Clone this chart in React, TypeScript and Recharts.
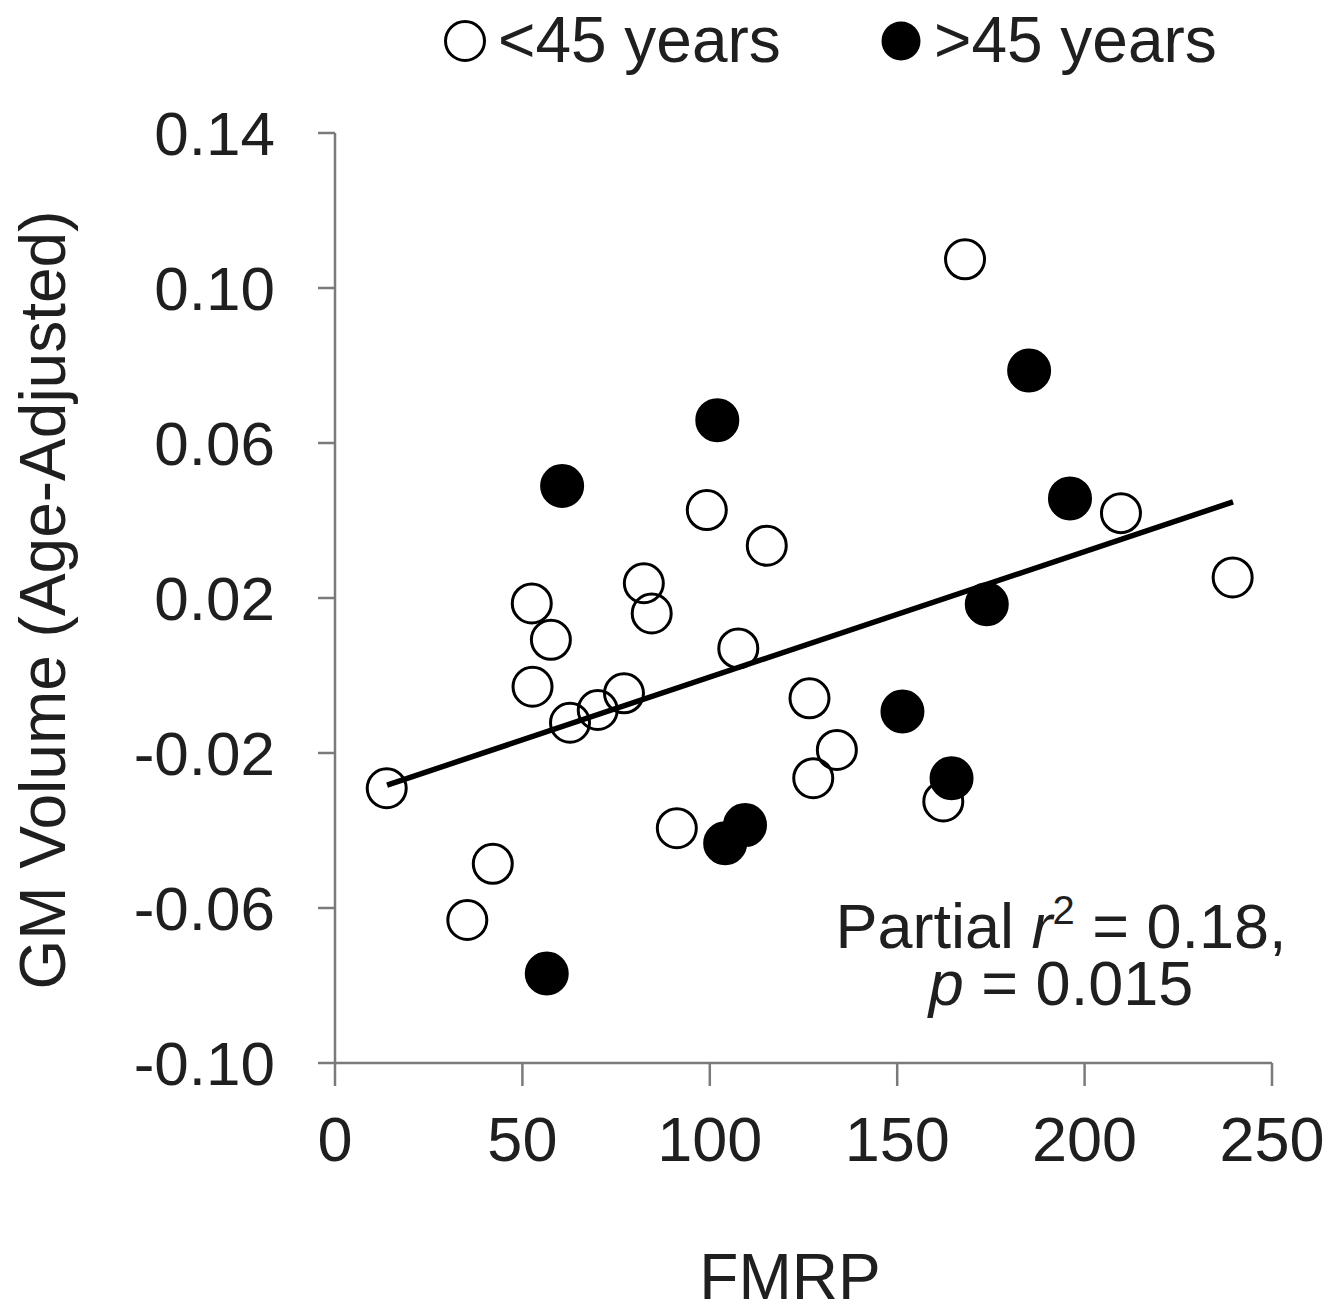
import { ScatterChart, Scatter, XAxis, YAxis, ReferenceLine, Legend, Label } from "recharts";

const FONT = '"Liberation Sans", Arial, sans-serif';
const INK = "#1f1f1f";

// FMRP vs age-adjusted GM volume
const youngFmrp = [13.8, 35.3, 42.1, 52.5, 52.7, 57.6, 62.7, 70.1, 77.1, 82.4, 84.5, 91.2, 99.2, 107.6, 115.2, 126.6, 127.6, 133.9, 162.3, 168.1, 209.7, 239.5];
const youngGm = [-0.0291, -0.0631, -0.0486, 0.0186, -0.0029, 0.0092, -0.0122, -0.0089, -0.0046, 0.0238, 0.016, -0.0394, 0.0427, 0.007, 0.0335, -0.0059, -0.0265, -0.0192, -0.0325, 0.1074, 0.0419, 0.0253];

const oldFmrp = [56.5, 60.6, 102, 104.1, 109.4, 151.4, 164.5, 173.9, 185.2, 196.1];
const oldGm = [-0.0769, 0.0489, 0.0659, -0.0433, -0.0386, -0.0093, -0.0265, 0.0184, 0.0787, 0.0457];

const fitFmrp = [13.9, 239.6];
const fitGm = [-0.0283, 0.0448];

const xTicks = [0, 50, 100, 150, 200, 250];
const yTicks = [-0.1, -0.06, -0.02, 0.02, 0.06, 0.1, 0.14];

const young = youngFmrp.map((x, i) => ({ x, y: youngGm[i] }));
const old = oldFmrp.map((x, i) => ({ x, y: oldGm[i] }));

const OpenDot = (props: any) => (
  <circle cx={props.cx} cy={props.cy} r={19.5} fill="none" stroke="#000" strokeWidth={3} />
);
const FilledDot = (props: any) => (
  <circle cx={props.cx} cy={props.cy} r={21} fill="#000" stroke="#000" strokeWidth={2} />
);

const YTick = ({ x, y, payload }: any) => (
  <text x={x} y={y} dy="0.36em" textAnchor="end" fontSize={62} fontFamily={FONT} fill={INK}>
    {payload.value.toFixed(2)}
  </text>
);

const XTick = ({ x, y, payload }: any) => (
  <text x={x} y={y} dy="0.72em" textAnchor="middle" fontSize={63} fontFamily={FONT} fill={INK}>
    {payload.value}
  </text>
);

const legendX = [465, 901];

const LegendContent = ({ payload }: any) => (
  <svg width={1342} height={80} style={{ display: "block" }}>
    {(payload || []).map((entry: any, i: number) => (
      <g key={entry.value}>
        {i === 0 ? (
          <circle cx={legendX[i]} cy={41} r={19.5} fill="none" stroke="#000" strokeWidth={3} />
        ) : (
          <circle cx={legendX[i]} cy={41} r={19.5} fill="#000" />
        )}
        <text x={legendX[i] + 33} y={62} fontSize={64} fontFamily={FONT} fill={INK}>
          {entry.value}
        </text>
      </g>
    ))}
  </svg>
);

export default function App() {
  return (
    <div style={{ position: "absolute", left: 0, top: 0, width: 1342, height: 1307, background: "#fff" }}>
      <ScatterChart width={1342} height={1307} margin={{ top: 53, right: 70, bottom: 0, left: 0 }}>
        <Legend
          verticalAlign="top"
          content={LegendContent}
          wrapperStyle={{ top: 0, left: 0, width: 1342, height: 80 }}
        />
        <XAxis
          type="number"
          dataKey="x"
          domain={[0, 250]}
          ticks={xTicks}
          height={244}
          tickSize={23}
          tickMargin={30}
          stroke="#7a7a7a"
          strokeWidth={2.5}
          tick={XTick}
        >
          <Label
            content={() => (
              <text x={790} y={1299} textAnchor="middle" fontSize={64} fontFamily={FONT} fill={INK}>
                FMRP
              </text>
            )}
          />
        </XAxis>
        <YAxis
          type="number"
          dataKey="y"
          domain={[-0.1, 0.14]}
          ticks={yTicks}
          width={335}
          tickSize={17}
          tickMargin={43}
          stroke="#7a7a7a"
          strokeWidth={2.5}
          tick={YTick}
        >
          <Label
            content={() => (
              <text
                x={65}
                y={600}
                transform="rotate(-90 65 600)"
                textAnchor="middle"
                fontSize={64}
                fontFamily={FONT}
                fill={INK}
              >
                GM Volume (Age-Adjusted)
              </text>
            )}
          />
        </YAxis>
        <ReferenceLine
          segment={[
            { x: fitFmrp[0], y: fitGm[0] },
            { x: fitFmrp[1], y: fitGm[1] },
          ]}
          stroke="#000"
          strokeWidth={5.5}
          ifOverflow="visible"
        />
        <Scatter name="<45 years" data={young} shape={OpenDot} isAnimationActive={false} />
        <Scatter name=">45 years" data={old} shape={FilledDot} isAnimationActive={false} />
      </ScatterChart>
      <svg
        width={1342}
        height={1307}
        style={{ position: "absolute", left: 0, top: 0, pointerEvents: "none" }}
      >
        <text x={1061} y={948} textAnchor="middle" fontSize={63} fontFamily={FONT} fill={INK}>
          Partial <tspan fontStyle="italic">r</tspan>
          <tspan fontSize={40} baselineShift="60%">2</tspan>
          <tspan> = 0.18,</tspan>
        </text>
        <text x={1061} y={1005} textAnchor="middle" fontSize={63} fontFamily={FONT} fill={INK}>
          <tspan fontStyle="italic">p</tspan> = 0.015
        </text>
      </svg>
    </div>
  );
}
